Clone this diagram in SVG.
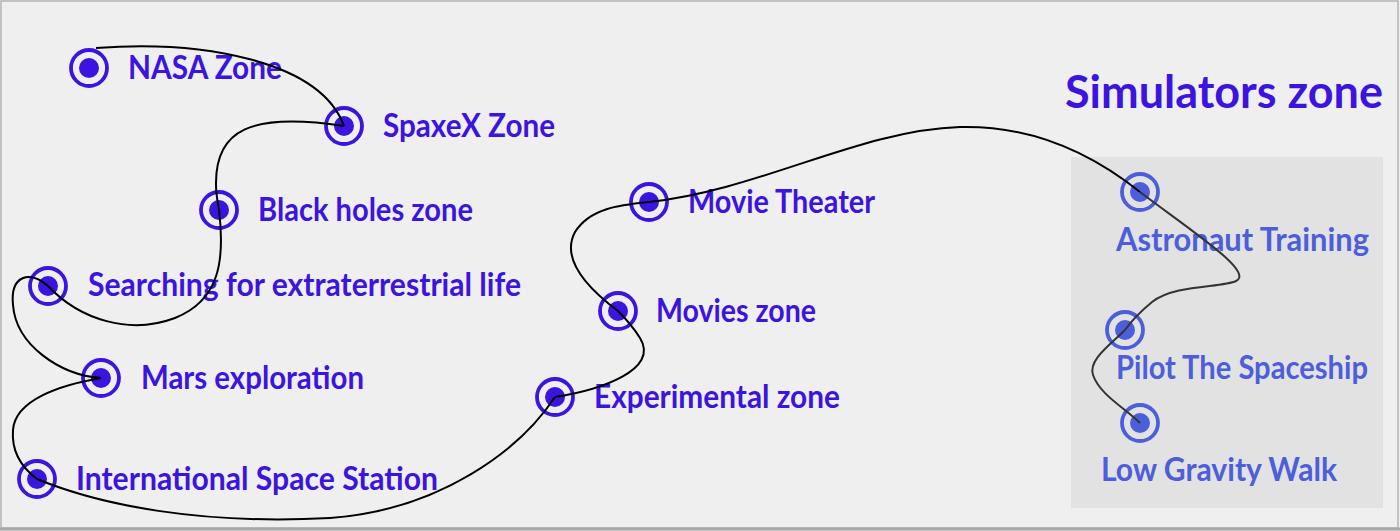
<svg xmlns="http://www.w3.org/2000/svg" width="1400" height="531" viewBox="0 0 1400 531">
<style>
.lbl{font-family:Lato,"Open Sans","Liberation Sans",sans-serif;font-weight:700;font-size:32px;fill:#3b14e0}
.title{font-size:46px}
.sim{fill:#4d5edb}
.ring{fill:none;stroke:#3b14e0;stroke-width:3.8}
.dot{fill:#3b14e0}
.sring{fill:none;stroke:#4d5edb;stroke-width:3.8}
.sdot{fill:#4d5edb}
.edge{fill:none;stroke:#000;stroke-width:2}
.sedge{fill:none;stroke:#333;stroke-width:2}
</style>
<rect x="0" y="0" width="1400" height="531" fill="#efefef"/>
<rect x="1" y="1" width="1397" height="527" fill="none" stroke="#b4b4b4" stroke-width="1.5"/>
<line x1="0" y1="529" x2="1400" y2="529" stroke="#a8a8a8" stroke-width="3"/>
<rect id="simulators-box" x="1071" y="157" width="312" height="351" fill="#e2e2e2"/>
<text class="lbl title" x="1065" y="108" textLength="318" lengthAdjust="spacingAndGlyphs">Simulators zone</text>
<g id="nasa"><circle class="ring" cx="89" cy="68" r="18"/><circle class="dot" cx="89" cy="68" r="10"/><text class="lbl" x="128" y="79" textLength="154" lengthAdjust="spacingAndGlyphs">NASA Zone</text></g>
<g id="spacex"><circle class="ring" cx="344" cy="126" r="18"/><circle class="dot" cx="344" cy="126" r="10"/><text class="lbl" x="383" y="137" textLength="172" lengthAdjust="spacingAndGlyphs">SpaxeX Zone</text></g>
<g id="blackholes"><circle class="ring" cx="219" cy="210" r="18"/><circle class="dot" cx="219" cy="210" r="10"/><text class="lbl" x="258" y="221" textLength="215" lengthAdjust="spacingAndGlyphs">Black holes zone</text></g>
<g id="searching"><circle class="ring" cx="48" cy="286" r="18"/><circle class="dot" cx="48" cy="286" r="10"/><text class="lbl" x="88" y="296" textLength="433" lengthAdjust="spacingAndGlyphs">Searching for extraterrestrial life</text></g>
<g id="mars"><circle class="ring" cx="101" cy="378" r="18"/><circle class="dot" cx="101" cy="378" r="10"/><text class="lbl" x="141" y="389" textLength="223" lengthAdjust="spacingAndGlyphs">Mars exploration</text></g>
<g id="iss"><circle class="ring" cx="37" cy="479" r="18"/><circle class="dot" cx="37" cy="479" r="10"/><text class="lbl" x="76" y="490" textLength="362" lengthAdjust="spacingAndGlyphs">International Space Station</text></g>
<g id="experimental"><circle class="ring" cx="555" cy="397" r="18"/><circle class="dot" cx="555" cy="397" r="10"/><text class="lbl" x="594" y="408" textLength="246" lengthAdjust="spacingAndGlyphs">Experimental zone</text></g>
<g id="movies"><circle class="ring" cx="618" cy="311" r="18"/><circle class="dot" cx="618" cy="311" r="10"/><text class="lbl" x="656" y="322" textLength="160" lengthAdjust="spacingAndGlyphs">Movies zone</text></g>
<g id="theater"><circle class="ring" cx="649" cy="202" r="18"/><circle class="dot" cx="649" cy="202" r="10"/><text class="lbl" x="688" y="213" textLength="187" lengthAdjust="spacingAndGlyphs">Movie Theater</text></g>
<g id="astronaut"><circle class="sring" cx="1140" cy="192" r="18"/><circle class="sdot" cx="1140" cy="192" r="10"/><text class="lbl sim" x="1116" y="251" textLength="253" lengthAdjust="spacingAndGlyphs">Astronaut Training</text></g>
<g id="pilot"><circle class="sring" cx="1125" cy="330" r="18"/><circle class="sdot" cx="1125" cy="330" r="10"/><text class="lbl sim" x="1116" y="379" textLength="252" lengthAdjust="spacingAndGlyphs">Pilot The Spaceship</text></g>
<g id="lowgravity"><circle class="sring" cx="1140" cy="423" r="18"/><circle class="sdot" cx="1140" cy="423" r="10"/><text class="lbl sim" x="1101" y="481" textLength="236" lengthAdjust="spacingAndGlyphs">Low Gravity Walk</text></g>
<g id="connectors">
<path class="edge" d="M96,48 C200,40 320,60 344,126"/>
<path class="edge" d="M344,126 C250,112 215,130 216,185 C216,195 218,203 219,210"/>
<path class="edge" d="M219,210 C225,260 220,300 175,318 C130,335 80,320 48,286"/>
<path class="edge" d="M48,286 C30,270 10,275 13,305 C16,345 60,375 101,378"/>
<path class="edge" d="M101,378 C60,385 15,400 13,430 C11,455 25,470 37,479"/>
<path class="edge" d="M37,479 C100,505 200,525 330,518 C440,510 520,450 555,397"/>
<path class="edge" d="M555,397 C600,390 660,370 640,338 C632,325 625,318 618,311"/>
<path class="edge" d="M618,311 C590,290 560,260 575,232 C590,208 620,205 649,202"/>
<path class="edge" d="M649,202 C760,190 860,130 960,127 C1040,125 1100,160 1140,192"/>
<path class="sedge" d="M1140,192 C1190,230 1255,272 1236,281 C1222,288 1175,284 1152,302 C1140,312 1132,320 1125,330"/>
<path class="sedge" d="M1125,330 C1110,345 1088,360 1093,375 C1100,395 1125,408 1140,423"/>
</g>
</svg>
